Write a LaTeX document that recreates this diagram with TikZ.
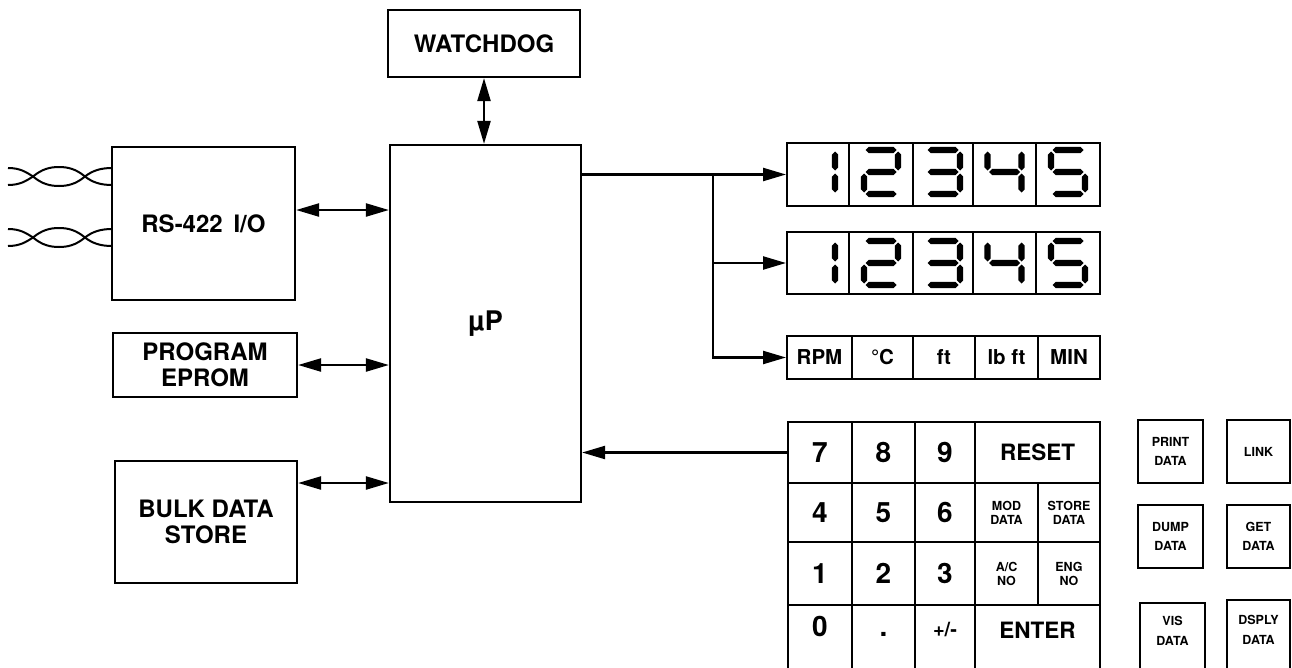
\documentclass[tikz,border=0pt]{standalone}
\usepackage{fontspec}
\setmainfont{TeX Gyre Heros}
\usetikzlibrary{arrows.meta}
\newcommand\hsg[3]{\fill (#1,#2) -- ++(3.2,3.2) -- ++(#3-6.4,0) -- ++(3.2,-3.2) -- ++(-3.2,-3.2) -- ++(-#3+6.4,0) -- cycle;}
\newcommand\vsg[3]{\fill (#1,#2) -- ++(3.2,3.2) -- ++(0,#3-6.4) -- ++(-3.2,3.2) -- ++(-3.2,-3.2) -- ++(0,-#3+6.4) -- cycle;}
\newcommand\SgA[2]{\hsg{#1+1.5}{#2}{31}}
\newcommand\SgG[2]{\hsg{#1+1.5}{#2+22}{31}}
\newcommand\SgD[2]{\hsg{#1+1.5}{#2+44}{31}}
\newcommand\SgF[2]{\vsg{#1}{#2+1.5}{19}}
\newcommand\SgE[2]{\vsg{#1}{#2+23.5}{19}}
\newcommand\SgB[2]{\vsg{#1+34}{#2+1.5}{19}}
\newcommand\SgC[2]{\vsg{#1+34}{#2+23.5}{19}}
\newcommand\DOne[2]{\SgB{#1}{#2}\SgC{#1}{#2}}
\newcommand\DTwo[2]{\SgA{#1}{#2}\SgB{#1}{#2}\SgG{#1}{#2}\SgE{#1}{#2}\SgD{#1}{#2}}
\newcommand\DThree[2]{\SgA{#1}{#2}\SgB{#1}{#2}\SgG{#1}{#2}\SgC{#1}{#2}\SgD{#1}{#2}}
\newcommand\DFour[2]{\SgF{#1}{#2}\SgG{#1}{#2}\SgB{#1}{#2}\SgC{#1}{#2}}
\newcommand\DFive[2]{\SgA{#1}{#2}\SgF{#1}{#2}\SgG{#1}{#2}\SgC{#1}{#2}\SgD{#1}{#2}}
\tikzset{
 blk/.style={draw, line width=2.2pt, inner sep=0pt, align=center, font=\bfseries\fontsize{24}{26}\selectfont},
 dcell/.style={draw, line width=2pt, inner sep=0pt},
 ucell/.style={draw, line width=2pt, inner sep=0pt, minimum height=43, font=\bfseries\fontsize{20.5}{22}\selectfont},
 key/.style={draw, line width=2pt, inner sep=0pt, align=center},
 kbig/.style={font=\bfseries\fontsize{28}{30}\selectfont},
 kword/.style={font=\bfseries\fontsize{22.5}{24}\selectfont},
 ksmall/.style={align=center, font=\bfseries\fontsize{12.5}{14}\selectfont},
 sbtn/.style={draw, line width=2pt, inner sep=0pt, align=center, font=\bfseries\fontsize{12.5}{19.5}\selectfont},
 stext/.style={inner sep=0pt, align=center, font=\bfseries\fontsize{12.5}{19.5}\selectfont},
 dbl/.style={line width=2.3pt, {Triangle[length=23pt,width=13pt]}-{Triangle[length=23pt,width=13pt]}},
 one/.style={line width=2.3pt, -{Triangle[length=23pt,width=13pt]}},
 wire/.style={line width=2pt},
}
\begin{document}
\begin{tikzpicture}[x=1pt,y=-1pt]
\path[use as bounding box, fill=white] (0,0) rectangle (1292,667);

% main blocks
\node[blk, minimum width=192, minimum height=67] (wd) at (484,43.5) {WATCHDOG};
\node[blk, minimum width=191, minimum height=357, font=\bfseries\fontsize{27}{28}\selectfont] (mup) at (485.5,323.5) {µP};
\node[blk, minimum width=183, minimum height=153] (rs) at (203.5,223.5) {RS-422\hspace{0.45em}I/O};
\node[blk, minimum width=184, minimum height=64] (ep) at (205,365) {PROGRAM\\EPROM};
\node[blk, minimum width=182, minimum height=122] (bulk) at (206,522) {BULK DATA\\STORE};

% twisted pairs
\foreach \dy in {0,61}{
\begin{scope}[shift={(0,\dy)}]
\draw[wire] (8,168) .. controls (20,168) and (26,172) .. (33,176.5) .. controls (42,184) and (50,186) .. (59,186) .. controls (68,186) and (76,184) .. (85,176.5) .. controls (92,171) and (100,168) .. (112,168);
\draw[wire] (8,185) .. controls (20,185) and (26,181) .. (33,176.5) .. controls (42,169) and (50,167) .. (59,167) .. controls (68,167) and (76,169) .. (85,176.5) .. controls (92,182) and (100,185) .. (112,185);
\end{scope}}

% displays
\foreach \i/\l/\r/\dg in {1/787/849/DOne, 2/849/913/DTwo, 3/913/973/DThree, 4/973/1036/DFour, 5/1036/1100/DFive}{
  \node[dcell, minimum width={\r-\l}, minimum height=63] (da\i) at ({(\l+\r)/2},174.5) {};
  \node[dcell, minimum width={\r-\l}, minimum height=62] (db\i) at ({(\l+\r)/2},263) {};
  \pgfmathsetmacro\xo{(\l+\r)/2-17}
  \csname\dg\endcsname{\xo}{150}
  \csname\dg\endcsname{\xo}{241}
}

% units row
\foreach \i/\l/\r/\t in {1/787/852/RPM, 2/852/913/°C, 3/913/975/ft, 4/975/1038/lb ft, 5/1038/1100/MIN}{
  \node[ucell, minimum width={\r-\l}] (u\i) at ({(\l+\r)/2},357.5) {\t};
}

% keypad
\node[key, kbig, minimum width=64, minimum height=61] (k7) at (820,452.5) {7};
\node[key, kbig, minimum width=63, minimum height=61] (k8) at (883.5,452.5) {8};
\node[key, kbig, minimum width=60, minimum height=61] (k9) at (945,452.5) {9};
\node[key, kword, minimum width=125, minimum height=61] (kreset) at (1037.5,452.5) {RESET};
\node[key, kbig, minimum width=64, minimum height=59] (k4) at (820,512.5) {4};
\node[key, kbig, minimum width=63, minimum height=59] (k5) at (883.5,512.5) {5};
\node[key, kbig, minimum width=60, minimum height=59] (k6) at (945,512.5) {6};
\node[key, ksmall, minimum width=63, minimum height=59] (kmod) at (1006.5,512.5) {MOD\\DATA};
\node[key, ksmall, minimum width=62, minimum height=59] (kstore) at (1069,512.5) {STORE\\DATA};
\node[key, kbig, minimum width=64, minimum height=63] (k1) at (820,573.5) {1};
\node[key, kbig, minimum width=63, minimum height=63] (k2) at (883.5,573.5) {2};
\node[key, kbig, minimum width=60, minimum height=63] (k3) at (945,573.5) {3};
\node[key, ksmall, minimum width=63, minimum height=63] (kac) at (1006.5,573.5) {A/C\\NO};
\node[key, ksmall, minimum width=62, minimum height=63] (keng) at (1069,573.5) {ENG\\NO};
\node[key, minimum width=64, minimum height=67] (k0) at (820,638.5) {};
\node[key, minimum width=63, minimum height=67] (kdot) at (883.5,638.5) {};
\node[key, minimum width=60, minimum height=67] (kpm) at (945,638.5) {};
\node[key, minimum width=125, minimum height=67] (kenter) at (1037.5,638.5) {};
\node[kbig, anchor=base, inner sep=0pt] (t0) at (k0 |- 0,636) {0};
\node[kbig, anchor=base, inner sep=0pt] (tdot) at (kdot |- 0,636) {.};
\node[font=\bfseries\fontsize{20}{22}\selectfont, anchor=base, inner sep=0pt] (tpm) at (kpm |- 0,636) {+/-};
\node[kword, anchor=base, inner sep=0pt] (tenter) at (kenter |- 0,638) {ENTER};

% side buttons
\node[sbtn, minimum width=65, minimum height=63] (bprint) at (1170.5,451.5) {PRINT\\DATA};
\node[sbtn, minimum width=63, minimum height=63] (blink) at (1258.5,451.5) {LINK};
\node[sbtn, minimum width=65, minimum height=63] (bdump) at (1170.5,536.5) {DUMP\\DATA};
\node[sbtn, minimum width=63, minimum height=63] (bget) at (1258.5,536.5) {GET\\DATA};
\node[sbtn, minimum width=65, minimum height=69] (bvis) at (1172.5,637.5) {};
\node[sbtn, minimum width=63, minimum height=72] (bdsp) at (1258.5,636) {};
\node[stext] (tvis) at (bvis |- 0,631) {VIS\\DATA};
\node[stext] (tdsp) at (bdsp |- 0,630) {DSPLY\\DATA};

% connectors
\draw[dbl] (wd.south) -- (wd.south |- mup.north);
\draw[dbl] ([yshift=13.5pt]rs.east) -- ([yshift=13.5pt]rs.east -| mup.west);
\draw[dbl] (ep.east) -- (ep.east -| mup.west);
\draw[dbl] ([yshift=39pt]bulk.east) -- ([yshift=39pt]bulk.east -| mup.west);
\coordinate (jn) at (713,174.5);
\draw[one] (mup.east |- da1.west) -- (da1.west);
\draw[one] (jn) |- (db1.west);
\draw[one] (jn) |- (u1.west);
\draw[one] (k7.west) -- (k7.west -| mup.east);
\end{tikzpicture}
\end{document}
